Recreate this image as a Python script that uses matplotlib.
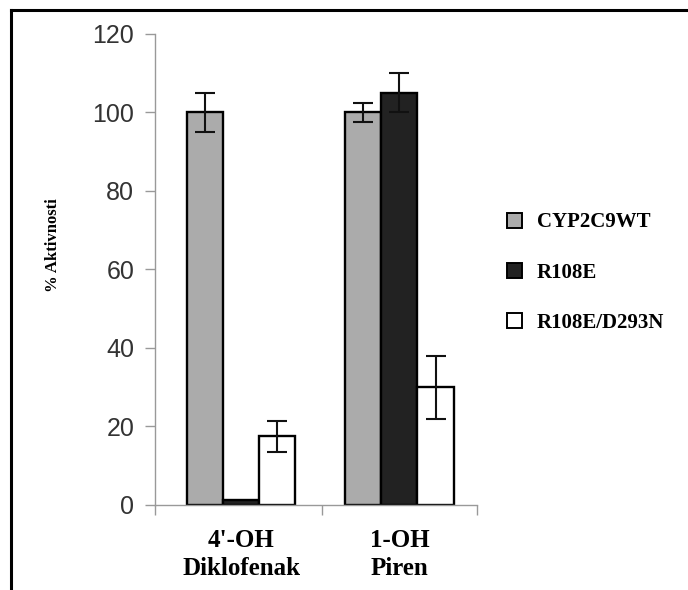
import matplotlib
matplotlib.use("Agg")
import matplotlib.pyplot as plt
from matplotlib.lines import Line2D
from matplotlib.patches import Patch
import numpy as np

categories = ["4'-OH\nDiklofenak", "1-OH\nPiren"]
series = ["CYP2C9WT", "R108E", "R108E/D293N"]
values = {
    "CYP2C9WT": [100, 100],
    "R108E": [1.2, 105],
    "R108E/D293N": [17.5, 30],
}
errors = {
    "CYP2C9WT": [5, 2.5],
    "R108E": [0, 5],
    "R108E/D293N": [4, 8],
}
colors = {
    "CYP2C9WT": "#ababab",
    "R108E": "#222222",
    "R108E/D293N": "#ffffff",
}
y_ticks = [0, 20, 40, 60, 80, 100, 120]

serif = "Liberation Serif"
sans = "Liberation Sans"

fig = plt.figure(figsize=(6.88, 5.90), dpi=100)
ax = fig.add_axes([0.2253, 0.1441, 0.468, 0.7983])

x = np.arange(len(categories))
width = 0.228
for k, name in enumerate(series):
    pos = x + (k - 1) * width
    ax.bar(pos, values[name], width=width, color=colors[name],
           edgecolor="black", linewidth=1.7, zorder=2)
    errs = errors[name]
    mask = [e > 0 for e in errs]
    ax.errorbar(pos[mask], np.array(values[name])[mask], yerr=np.array(errs)[mask],
                fmt="none", ecolor="#111111", elinewidth=1.5, capsize=7.5,
                capthick=1.5, zorder=3)

ax.set_xlim(-0.545, 1.49)
ax.set_ylim(0, 120)
ax.set_yticks(y_ticks)
ax.set_yticklabels([str(t) for t in y_ticks], fontsize=18, family=sans, color="#333333")
ax.set_xticks([-0.545, 0.51, 1.49])
ax.set_xticklabels([])
ax.set_xticks(x, minor=True)
ax.set_xticklabels(categories, minor=True, fontsize=18, family=serif,
                   fontweight="bold", linespacing=1.3)
ax.tick_params(axis="x", which="major", length=7, color="#999999", width=1)
ax.tick_params(axis="x", which="minor", length=0, pad=17)
ax.tick_params(axis="y", length=7, color="#999999", width=1, pad=8)

for side in ["top", "right"]:
    ax.spines[side].set_visible(False)
for side in ["left", "bottom"]:
    ax.spines[side].set_color("#999999")
    ax.spines[side].set_linewidth(1)

fig.text(0.077, 0.585, "% Aktivnosti", rotation=90, ha="center", va="center",
         fontsize=12, family=serif, fontweight="bold")

handles = [Patch(facecolor=colors[n], edgecolor="black", linewidth=1.4, label=n)
           for n in series]
leg = fig.legend(handles=handles, loc="upper left", bbox_to_anchor=(0.737, 0.64),
                 frameon=False, handlelength=0.72, handleheight=0.72,
                 handletextpad=0.7, labelspacing=1.45, borderpad=0, borderaxespad=0,
                 prop={"family": serif, "weight": "bold", "size": 15})

# frame drawn around the original figure (top and left edges only)
fig.add_artist(Line2D([0.016, 0.016], [0.0, 0.983], color="black", linewidth=2.2))
fig.add_artist(Line2D([0.016, 1.0], [0.983, 0.983], color="black", linewidth=2.2))

fig.savefig("out.png", dpi=100)
